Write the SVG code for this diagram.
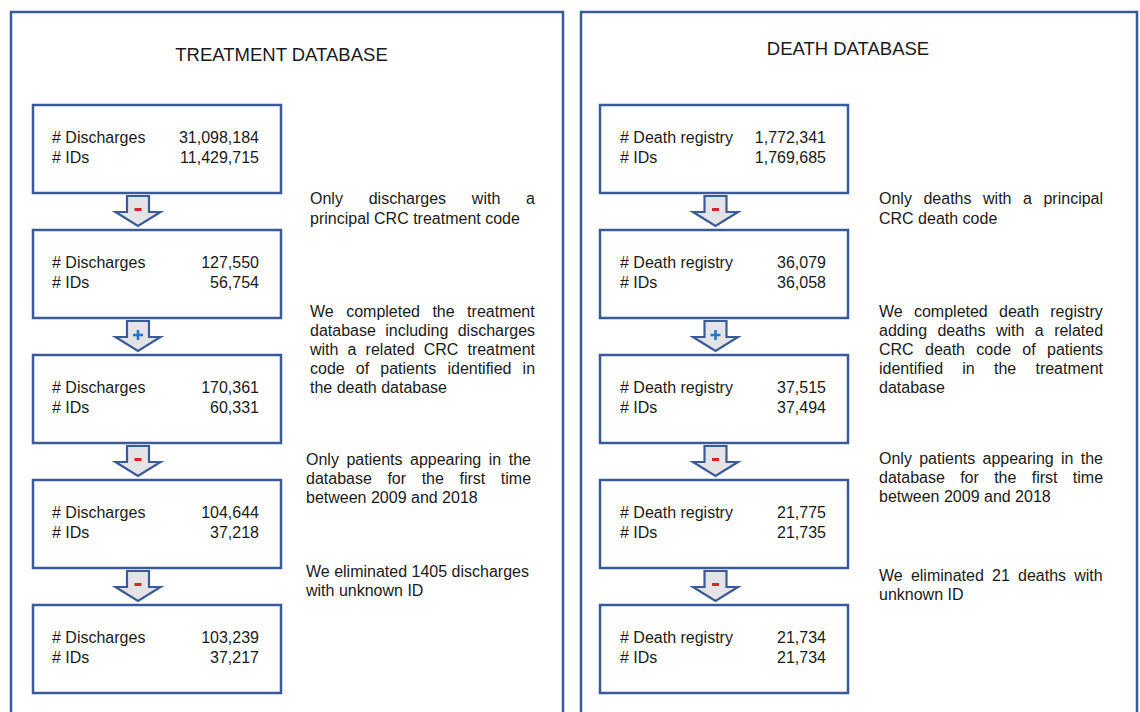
<svg xmlns="http://www.w3.org/2000/svg" width="1140" height="712" viewBox="0 0 1140 712">
<style>
  .panel { fill: #ffffff; stroke: #3b5b98; stroke-width: 2.5; }
  .box { fill: #ffffff; stroke: #3b5b98; stroke-width: 2.5; }
  .arrow { fill: #e4e4e6; stroke: #3b5b98; stroke-width: 2.2; stroke-linejoin: miter; }
  .title { font-family: "Liberation Sans", Arial, sans-serif; font-size: 18.5px; fill: #1a1a1a; text-anchor: middle; }
  .t { font-family: "Liberation Sans", Arial, sans-serif; font-size: 16px; fill: #1a1a1a; }
  .num { text-anchor: end; }
  .minus { fill: #e0202a; }
  .plus { stroke: #1f78c8; stroke-width: 2.6; fill: none; }
</style>
<defs>
  <path id="arr" class="arrow" d="M -11 0 H 11 V 16 H 22.5 L 0 30 L -22.5 16 H -11 Z"/>
  <rect id="minus" class="minus" x="-3.5" y="12" width="7" height="3"/>
  <path id="plus" class="plus" d="M -5 14 H 5 M 0 9 V 19"/>
</defs>
<rect width="1140" height="712" fill="#ffffff"/>

<g id="panel-treatment">
  <rect class="panel" x="11" y="12" width="552" height="720"/>
  <text class="title" x="281.5" y="61">TREATMENT DATABASE</text>
</g>
<g id="panel-death">
  <rect class="panel" x="581" y="12" width="556" height="720"/>
  <text class="title" x="848" y="54.5">DEATH DATABASE</text>
</g>

<g id="connectors">
  <use href="#arr" x="138" y="196"/><use href="#minus" x="138" y="196"/>
  <use href="#arr" x="138" y="321"/><use href="#plus" x="138" y="321"/>
  <use href="#arr" x="138" y="446"/><use href="#minus" x="138" y="446"/>
  <use href="#arr" x="138" y="571"/><use href="#minus" x="138" y="571"/>
  <use href="#arr" x="715.5" y="196"/><use href="#minus" x="715.5" y="196"/>
  <use href="#arr" x="715.5" y="321"/><use href="#plus" x="715.5" y="321"/>
  <use href="#arr" x="715.5" y="446"/><use href="#minus" x="715.5" y="446"/>
  <use href="#arr" x="715.5" y="571"/><use href="#minus" x="715.5" y="571"/>
</g>

<g id="t1">
  <rect class="box" x="33" y="105" width="248" height="88"/>
  <text class="t" x="52" y="143"># Discharges</text><text class="t num" x="259" y="143">31,098,184</text>
  <text class="t" x="52" y="162.5"># IDs</text><text class="t num" x="259" y="162.5">11,429,715</text>
</g>
<g id="t2">
  <rect class="box" x="33" y="230" width="248" height="88"/>
  <text class="t" x="52" y="268"># Discharges</text><text class="t num" x="259" y="268">127,550</text>
  <text class="t" x="52" y="287.5"># IDs</text><text class="t num" x="259" y="287.5">56,754</text>
</g>
<g id="t3">
  <rect class="box" x="33" y="355" width="248" height="88"/>
  <text class="t" x="52" y="393"># Discharges</text><text class="t num" x="259" y="393">170,361</text>
  <text class="t" x="52" y="412.5"># IDs</text><text class="t num" x="259" y="412.5">60,331</text>
</g>
<g id="t4">
  <rect class="box" x="33" y="480" width="248" height="88"/>
  <text class="t" x="52" y="518"># Discharges</text><text class="t num" x="259" y="518">104,644</text>
  <text class="t" x="52" y="537.5"># IDs</text><text class="t num" x="259" y="537.5">37,218</text>
</g>
<g id="t5">
  <rect class="box" x="33" y="605" width="248" height="88"/>
  <text class="t" x="52" y="643"># Discharges</text><text class="t num" x="259" y="643">103,239</text>
  <text class="t" x="52" y="662.5"># IDs</text><text class="t num" x="259" y="662.5">37,217</text>
</g>

<g id="d1">
  <rect class="box" x="600" y="105" width="248" height="88"/>
  <text class="t" x="620" y="143"># Death registry</text><text class="t num" x="826" y="143">1,772,341</text>
  <text class="t" x="620" y="162.5"># IDs</text><text class="t num" x="826" y="162.5">1,769,685</text>
</g>
<g id="d2">
  <rect class="box" x="600" y="230" width="248" height="88"/>
  <text class="t" x="620" y="268"># Death registry</text><text class="t num" x="826" y="268">36,079</text>
  <text class="t" x="620" y="287.5"># IDs</text><text class="t num" x="826" y="287.5">36,058</text>
</g>
<g id="d3">
  <rect class="box" x="600" y="355" width="248" height="88"/>
  <text class="t" x="620" y="393"># Death registry</text><text class="t num" x="826" y="393">37,515</text>
  <text class="t" x="620" y="412.5"># IDs</text><text class="t num" x="826" y="412.5">37,494</text>
</g>
<g id="d4">
  <rect class="box" x="600" y="480" width="248" height="88"/>
  <text class="t" x="620" y="518"># Death registry</text><text class="t num" x="826" y="518">21,775</text>
  <text class="t" x="620" y="537.5"># IDs</text><text class="t num" x="826" y="537.5">21,735</text>
</g>
<g id="d5">
  <rect class="box" x="600" y="605" width="248" height="88"/>
  <text class="t" x="620" y="643"># Death registry</text><text class="t num" x="826" y="643">21,734</text>
  <text class="t" x="620" y="662.5"># IDs</text><text class="t num" x="826" y="662.5">21,734</text>
</g>

<g id="notes-treatment">
  <text class="t" x="310" y="204" word-spacing="21.35">Only discharges with a</text>
  <text class="t" x="310" y="223.5">principal CRC treatment code</text>
  <text class="t" x="310" y="316.5" word-spacing="8.0">We completed the treatment</text>
  <text class="t" x="310" y="335.7" word-spacing="4.9">database including discharges</text>
  <text class="t" x="310" y="355" word-spacing="4.68">with a related CRC treatment</text>
  <text class="t" x="310" y="374" word-spacing="6.67">code of patients identified in</text>
  <text class="t" x="310" y="393">the death database</text>
  <text class="t" x="306" y="465" word-spacing="3.1">Only patients appearing in the</text>
  <text class="t" x="306" y="484" word-spacing="11.13">database for the first time</text>
  <text class="t" x="306" y="502.5">between 2009 and 2018</text>
  <text class="t" x="306" y="577">We eliminated 1405 discharges</text>
  <text class="t" x="306" y="596">with unknown ID</text>
</g>
<g id="notes-death">
  <text class="t" x="879" y="204" word-spacing="7.1">Only deaths with a principal</text>
  <text class="t" x="879" y="223.5">CRC death code</text>
  <text class="t" x="879" y="316.5" word-spacing="6.79">We completed death registry</text>
  <text class="t" x="879" y="335.7" word-spacing="5.98">adding deaths with a related</text>
  <text class="t" x="879" y="355" word-spacing="6.87">CRC death code of patients</text>
  <text class="t" x="879" y="374" word-spacing="14.79">identified in the treatment</text>
  <text class="t" x="879" y="393">database</text>
  <text class="t" x="879" y="464" word-spacing="2.85">Only patients appearing in the</text>
  <text class="t" x="879" y="483" word-spacing="10.88">database for the first time</text>
  <text class="t" x="879" y="502">between 2009 and 2018</text>
  <text class="t" x="879" y="581" word-spacing="3.75">We eliminated 21 deaths with</text>
  <text class="t" x="879" y="600">unknown ID</text>
</g>
</svg>
